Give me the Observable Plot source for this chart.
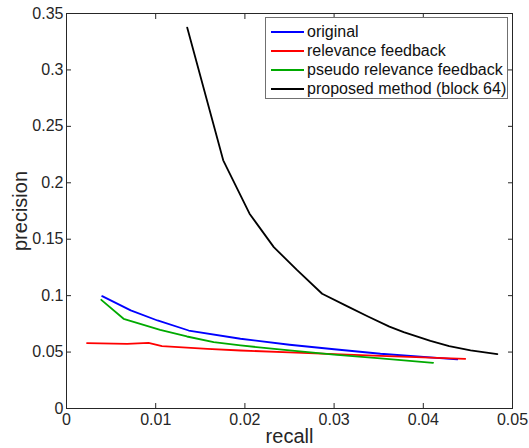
<!DOCTYPE html>
<html>
<head>
<meta charset="utf-8">
<script src="https://cdn.jsdelivr.net/npm/d3@7"></script>
<script src="https://cdn.jsdelivr.net/npm/@observablehq/plot@0.6"></script>
<style>
  html, body { margin: 0; padding: 0; background: #fff; }
  #wrap { position: relative; width: 529px; height: 448px; font-family: "Liberation Sans", Arial, sans-serif; }
  #legend { position: absolute; left: 265px; top: 17px; width: 243px; height: 82px; border: 1.5px solid #707070; background: #fff; box-sizing: border-box; }
  .item { position: absolute; left: 5px; height: 19px; display: flex; align-items: center; font-size: 16px; color: #111; white-space: nowrap; }
  .sw { width: 33px; height: 2px; margin-right: 3px; }
</style>
</head>
<body>
<div id="wrap"><div id="chart"></div><div id="legend"></div></div>
<script>
const seriesNames = ["original", "relevance feedback", "pseudo relevance feedback", "proposed method (block 64)"];
const seriesColors = ["#0000ff", "#ff0000", "#00aa00", "#000000"];

const originalRecall = [0.0040, 0.0072, 0.0102, 0.0137, 0.0195, 0.0250, 0.0300, 0.0352, 0.0438];
const originalPrecision = [0.0996, 0.0869, 0.0780, 0.0691, 0.0618, 0.0565, 0.0525, 0.0485, 0.0435];

const relevanceRecall = [0.0023, 0.0068, 0.0092, 0.0107, 0.0158, 0.0195, 0.0250, 0.0300, 0.0352, 0.0447];
const relevancePrecision = [0.0580, 0.0573, 0.0582, 0.0553, 0.0529, 0.0514, 0.0497, 0.0482, 0.0466, 0.0440];

const pseudoRecall = [0.0039, 0.0064, 0.0105, 0.0135, 0.0165, 0.0195, 0.0250, 0.0300, 0.0352, 0.0411];
const pseudoPrecision = [0.0963, 0.0795, 0.0697, 0.0638, 0.0588, 0.0559, 0.0515, 0.0478, 0.0445, 0.0405];

const proposedRecall = [0.01353, 0.01757, 0.02052, 0.02324, 0.0258, 0.02866, 0.0315, 0.0338, 0.0362, 0.0378, 0.0408, 0.0429, 0.0453, 0.0483];
const proposedPrecision = [0.3375, 0.2199, 0.1726, 0.1430, 0.1230, 0.1017, 0.0905, 0.0815, 0.0725, 0.0676, 0.0600, 0.0553, 0.0516, 0.0482];

const xTicks = [0, 0.01, 0.02, 0.03, 0.04, 0.05];
const xTickLabels = ["0", "0.01", "0.02", "0.03", "0.04", "0.05"];
const yTicks = [0, 0.05, 0.1, 0.15, 0.2, 0.25, 0.3, 0.35];
const yTickLabels = ["0", "0.05", "0.1", "0.15", "0.2", "0.25", "0.3", "0.35"];

const allRecall = [originalRecall, relevanceRecall, pseudoRecall, proposedRecall];
const allPrecision = [originalPrecision, relevancePrecision, pseudoPrecision, proposedPrecision];
const data = [];
allRecall.forEach((rs, s) => rs.forEach((r, i) => data.push({series: seriesNames[s], recall: r, precision: allPrecision[s][i]})));

const axisColor = "#262626";
const chart = Plot.plot({
  width: 529, height: 448,
  marginLeft: 66, marginRight: 17, marginTop: 13, marginBottom: 40,
  style: {fontFamily: "'Liberation Sans', Arial, sans-serif", fontSize: "16px", color: axisColor, background: "#fff"},
  x: {domain: [0, 0.05]},
  y: {domain: [0, 0.35]},
  color: {domain: seriesNames, range: seriesColors},
  marks: [
    Plot.frame({stroke: axisColor, strokeWidth: 1}),
    Plot.line(data, {x: "recall", y: "precision", z: "series", stroke: "series", strokeWidth: 1.8}),
    Plot.axisX({ticks: xTicks, tickFormat: (d, i) => xTickLabels[i], tickSize: 0, tickPadding: 5, fontSize: 16, label: null}),
    Plot.axisX({ticks: xTicks, anchor: "bottom", tickSize: -5, tickFormat: () => "", label: null}),
    Plot.axisX({ticks: xTicks, anchor: "top", tickSize: -5, tickFormat: () => "", label: null}),
    Plot.axisY({ticks: yTicks, tickFormat: (d, i) => yTickLabels[i], tickSize: 0, tickPadding: 3, fontSize: 16, label: null}),
    Plot.axisY({ticks: yTicks, anchor: "left", tickSize: -5, tickFormat: () => "", label: null}),
    Plot.axisY({ticks: yTicks, anchor: "right", tickSize: -5, tickFormat: () => "", label: null}),
    Plot.text(["recall"], {frameAnchor: "bottom", dy: 28, fontSize: 20, lineAnchor: "middle"}),
    Plot.text(["precision"], {frameAnchor: "left", dx: -46, rotate: -90, fontSize: 20, textAnchor: "middle", lineAnchor: "middle"})
  ]
});
document.getElementById("chart").appendChild(chart);

const legend = document.getElementById("legend");
seriesNames.forEach((name, i) => {
  const item = document.createElement("div");
  item.className = "item";
  item.style.top = (4 + i * 19) + "px";
  const sw = document.createElement("div");
  sw.className = "sw";
  sw.style.background = seriesColors[i];
  const t = document.createElement("span");
  t.textContent = name;
  item.appendChild(sw); item.appendChild(t);
  legend.appendChild(item);
});
</script>
</body>
</html>
